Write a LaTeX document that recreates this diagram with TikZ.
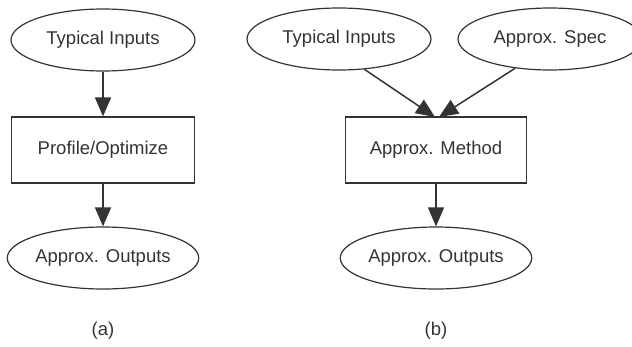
\documentclass[tikz,border=0pt]{standalone}
\usepackage{fontspec}
\setmainfont{Liberation Sans}
\usetikzlibrary{shapes.geometric,arrows.meta}
\definecolor{ink}{HTML}{333333}
\begin{document}
\begin{tikzpicture}[x=1pt,y=-1pt,
    every node/.style={font=\fontsize{18.5}{22}\selectfont, text=ink},
    data/.style={ellipse, draw=ink, line width=1.2pt, minimum width=184pt, minimum height=62pt, inner sep=0pt},
    proc/.style={rectangle, draw=ink, line width=1.2pt, minimum width=183pt, minimum height=66pt, inner sep=0pt},
    flow/.style={draw=ink, line width=1.5pt, -{Triangle[length=19pt,width=16pt]}}]

    % Fix the margins of the whole picture
    \useasboundingbox (0,0) rectangle (632,346);

    % Left part (a): profile and optimize
    \node[data] (inA) at (103,40) {Typical Inputs};
    \node[proc] (prof) at (103,150) {Profile/Optimize};
    \node[data] (outA) at (103,258) {Approx. Outputs};
    \node (capA) at (103,331) {(a)};

    \draw[flow] (inA) -- (prof);
    \draw[flow] (prof) -- (outA);

    % Right part (b): approximate method with a spec
    \node[data] (inB) at (339,39) {Typical Inputs};
    \node[data] (spec) at (550,39) {Approx. Spec};
    \node[proc, minimum width=181pt] (meth) at (436,150) {Approx. Method};
    \node[data] (outB) at (436,258) {Approx. Outputs};
    \node (capB) at (436,331) {(b)};

    % Arrow tips meet just beside each other on top of the box
    \coordinate (tipL) at (435,117);
    \coordinate (tipR) at (439,117);

    \draw[flow] (inB.-50) -- (tipL);
    \draw[flow] (spec.-140) -- (tipR);
    \draw[flow] (meth) -- (outB);

\end{tikzpicture}
\end{document}
